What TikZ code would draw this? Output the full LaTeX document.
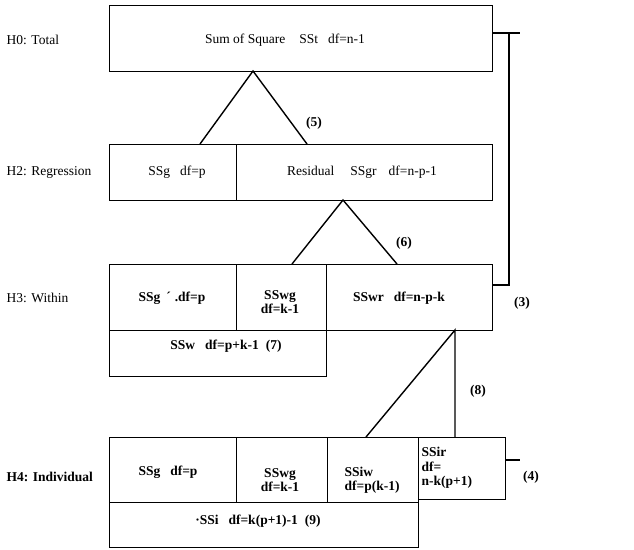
\documentclass[tikz,border=0pt]{standalone}
\usepackage{fontspec}
\setmainfont{Liberation Serif}
\begin{document}
\begin{tikzpicture}[x=1pt,y=-1pt,line width=1.4pt,
    font=\fontsize{13.5}{13.5}\selectfont]

        \useasboundingbox (0,0) rectangle (634,549);

        % row labels
        \begin{scope}[every node/.style={anchor=west,inner sep=0pt}]
          \node (h0) at (6,40)  {H0: Total};
          \node (h2) at (6,172) {H2: Regression};
          \node (h3) at (6,298) {H3: Within};
          \node (h4) at (6,477) {\bfseries H4: Individual};
        \end{scope}

        % boxes
        \begin{scope}[every node/.style={draw,anchor=north west,inner sep=0pt}]
          \node[minimum width=383pt,minimum height=66pt] (sst)   at (109,5)   {};
          \node[minimum width=127pt,minimum height=56pt] (ssg2)  at (109,144) {};
          \node[minimum width=256pt,minimum height=56pt] (ssgr)  at (236,144) {};
          \node[minimum width=127pt,minimum height=66pt] (ssg3)  at (109,264) {};
          \node[minimum width=90pt, minimum height=66pt] (sswg3) at (236,264) {};
          \node[minimum width=166pt,minimum height=66pt] (sswr)  at (326,264) {};
          \node[minimum width=217pt,minimum height=46pt] (ssw)   at (109,330) {};
          \node[minimum width=127pt,minimum height=65pt] (ssg4)  at (109,437) {};
          \node[minimum width=91pt, minimum height=65pt] (sswg4) at (236,437) {};
          \node[minimum width=91pt, minimum height=65pt] (ssiw)  at (327,437) {};
          \node[minimum width=87pt, minimum height=62pt] (ssir)  at (418,437) {};
          \node[minimum width=309pt,minimum height=45pt] (ssi)   at (109,502) {};
        \end{scope}

        % texts in the boxes
        \begin{scope}[every node/.style={inner sep=0pt,align=center}]
          \node (tsst)  at (285,40)  {Sum of Square\hspace{14pt}SSt\hspace{10pt}df=n-1};
          \node (tssg2) at (177,172) {SSg\hspace{10pt}df=p};
          \node (tssgr) at (362,172) {Residual\hspace{16pt}SSgr\hspace{12pt}df=n-p-1};
          \begin{scope}[font=\fontsize{13.5}{14.5}\selectfont\bfseries]
            \node (tssg3)  at (172,298) {SSg\hspace{6pt}´\hspace{4pt}.df=p};
            \node (tswg3)  at (280,302) {SSwg\\df=k-1};
            \node (tsswr)  at (399,298) {SSwr\hspace{10pt}df=n-p-k};
            \node (tssw)   at (226,346) {SSw\hspace{10pt}df=p+k-1\hspace{7pt}(7)};
            \node (tssg4)  at (168,472) {SSg\hspace{10pt}df=p};
            \node (tswg4)  at (280,480) {SSwg\\df=k-1};
            \node[align=left,anchor=west] (tssiw) at (344,480) {SSiw\\df=p(k-1)};
            \node[align=left,anchor=west] (tssir) at (421,468) {SSir\\df=\\n-k(p+1)};
            \node (tssi)   at (258,521) {·SSi\hspace{10pt}df=k(p+1)-1\hspace{7pt}(9)};
          \end{scope}
        \end{scope}

        % split points
        \coordinate (a1) at (253,71);  \coordinate (l1) at (200,144); \coordinate (m1) at (307,144);
        \coordinate (a2) at (343,200); \coordinate (l2) at (292,264); \coordinate (m2) at (397,264);
        \coordinate (a3) at (455,330); \coordinate (l3) at (366,437); \coordinate (m3) at (455,437);

        \draw (l1) -- (a1) -- (m1);
        \draw (l2) -- (a2) -- (m2);
        \draw (l3) -- (a3) -- (m3);

        % side links
        \coordinate (r0) at (492,33);  \coordinate (r1) at (520,33);
        \coordinate (rv) at (509,33);  \coordinate (rb) at (509,285);
        \coordinate (r3) at (492,285);
        \coordinate (s0) at (505,460); \coordinate (s1) at (520,460);
        \draw (r0) -- (r1);
        \draw (rv) -- (rb) -- (r3);
        \draw (s0) -- (s1);

        % step numbers
        \begin{scope}[every node/.style={inner sep=0pt,font=\fontsize{13.5}{13.5}\selectfont\bfseries}]
          \node (n5) at (314,123) {(5)};
          \node (n6) at (404,243) {(6)};
          \node (n8) at (478,391) {(8)};
          \node (n3) at (522,303) {(3)};
          \node (n4) at (531,477) {(4)};
        \end{scope}

      \end{tikzpicture}
\end{document}
